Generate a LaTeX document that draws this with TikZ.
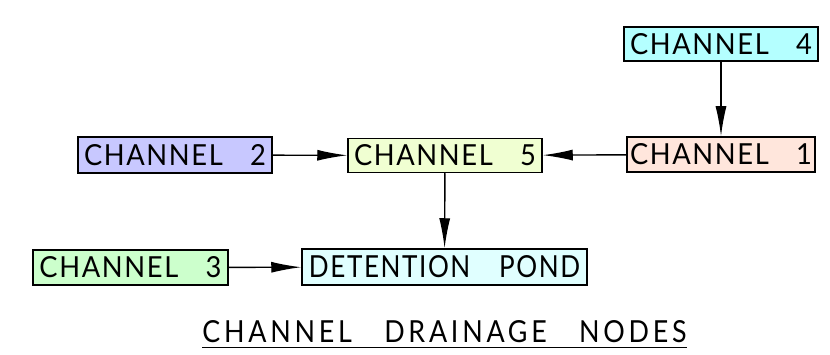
\documentclass[tikz,border=0pt]{standalone}
\usepackage{graphicx}
\usepackage{fontspec}
\setmainfont{Lato}[LetterSpace=6]
\newfontfamily\titlefont{Lato}[LetterSpace=14]
\usetikzlibrary{arrows.meta}
\definecolor{cFour}{HTML}{B4FFFF}
\definecolor{cOne}{HTML}{FFE6DC}
\definecolor{cTwo}{HTML}{C8C8FF}
\definecolor{cFive}{HTML}{F0FFD2}
\definecolor{cThree}{HTML}{CCFFCC}
\definecolor{cPond}{HTML}{E0FFFF}
\newcommand{\fittext}[3]{\resizebox{#1pt}{#2pt}{#3}}
\newcommand{\chlabel}[1]{\fittext{182}{21}{CHANNEL\hspace{1.0em}#1}}
\tikzset{
  box/.style={draw=black, line width=1.5pt, inner sep=0pt, minimum height=35pt,
    font=\fontsize{20}{20}\selectfont},
  flow/.style={line width=1.4pt, -{Latex[length=30pt,width=11pt]}}
}
\begin{document}
\begin{tikzpicture}[x=1pt,y=-1pt]
\useasboundingbox[fill=white] (0,0) rectangle (830,355);
\node[box, fill=cFour, minimum width=194pt, minimum height=34pt] (c4) at (721,44) {\chlabel{4}};
\node[box, fill=cOne, minimum width=188pt] (c1) at (721,154.5) {\chlabel{1}};
\node[box, fill=cTwo, minimum width=194pt, minimum height=36pt] (c2) at (175,155) {\chlabel{2}};
\node[box, fill=cFive, minimum width=194pt, minimum height=34pt] (c5) at (445,155.5) {\chlabel{5}};
\node[box, fill=cThree, minimum width=195pt] (c3) at (130.5,267.5) {\chlabel{3}};
\node[box, fill=cPond, minimum width=285pt, minimum height=36pt] (pond) at (444.5,267) {\fittext{271}{22}{DETENTION\hspace{1.1em}POND}};
\node[inner sep=0pt, anchor=base] (title) at (444.5,342) {\fittext{484}{22}{\titlefont CHANNEL\hspace{1.2em}DRAINAGE\hspace{1.2em}NODES}};
\coordinate (ul) at (202,347.5);
\coordinate (ur) at (687,347.5);
\draw[line width=1.5pt] (ul) -- (ur);
\draw[flow] (c4) -- (c1);
\draw[flow] (c2) -- (c5);
\draw[flow] (c1) -- (c5);
\draw[flow] (c5) -- (pond);
\draw[flow] (c3) -- (pond);
\end{tikzpicture}
\end{document}
